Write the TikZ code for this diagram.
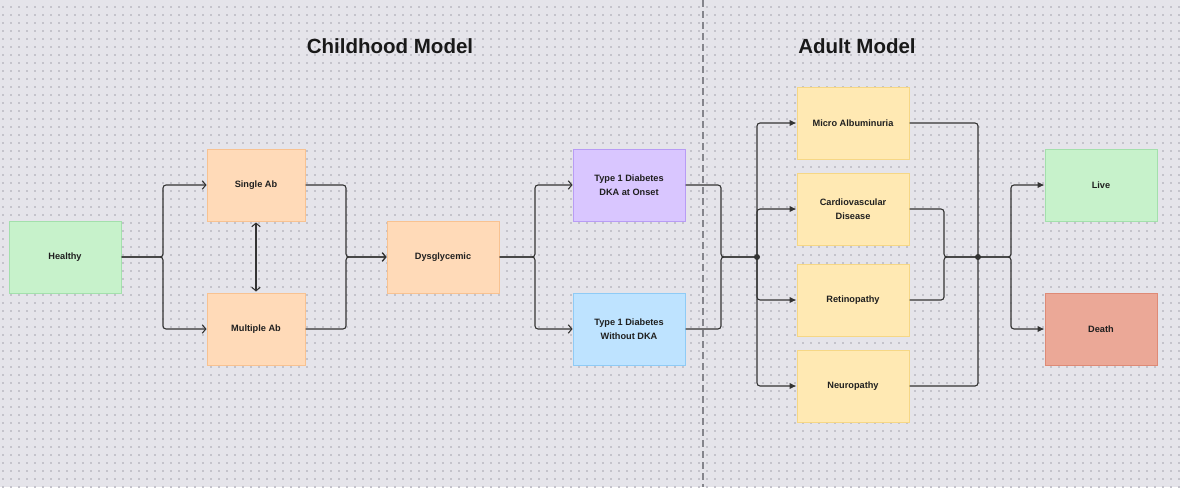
\documentclass[tikz,border=0pt]{standalone}
\usepackage{fontspec}
\setmainfont{Liberation Sans}
\usepackage{tikz}
\usetikzlibrary{arrows.meta,positioning}
\usepackage{xcolor}

\definecolor{bgcol}{HTML}{E5E4EA}
\definecolor{dotcol}{HTML}{C4C3CB}
\definecolor{linecol}{HTML}{333333}
\definecolor{divcol}{HTML}{85858C}
\definecolor{greenfill}{HTML}{C7F2CB}
\definecolor{greenline}{HTML}{A3E0AC}
\definecolor{orangefill}{HTML}{FFDAB8}
\definecolor{orangeline}{HTML}{F8C291}
\definecolor{purplefill}{HTML}{D9C6FF}
\definecolor{purpleline}{HTML}{B89CF5}
\definecolor{bluefill}{HTML}{BEE3FF}
\definecolor{blueline}{HTML}{8FCBF6}
\definecolor{yellowfill}{HTML}{FFE9B3}
\definecolor{yellowline}{HTML}{F6D785}
\definecolor{redfill}{HTML}{EBA897}
\definecolor{redline}{HTML}{DE8A76}

\tikzset{
  state/.style={draw, line width=1pt, minimum width=112pt, minimum height=72pt,
    align=center, text=black!88, font=\fontsize{9.2}{14}\selectfont\bfseries},
  narrow/.style={minimum width=98pt},
  title/.style={font=\fontsize{20.5}{24}\selectfont\bfseries, text=black!90},
  wire/.style={draw=linecol, line width=1.1pt, rounded corners=3pt},
  >={Straight Barb[length=3.5pt,width=8.5pt]},
  tip/.style={-{Latex[length=7pt,width=6.5pt]}}
}

\begin{document}
\begin{tikzpicture}[x=1pt, y=-1pt]
\useasboundingbox (0,0) rectangle (1180,487);
\fill[bgcol] (0,0) rectangle (1180,487);
\foreach \x in {3,11,...,1179}
  \foreach \y in {7,15,...,487}
    \fill[dotcol] (\x-0.55,\y-0.55) rectangle ++(1.1,1.1);

% divider and titles
\draw[divcol, line width=1.1pt, dash pattern=on 7pt off 4pt] (703,0) -- (703,487);
\node[title] (childt) at (390,46) {Childhood Model};
\node[title] (adultt) at (857,46) {Adult Model};

% childhood model
\node[state, fill=greenfill, draw=greenline] (healthy) at (65,257) {Healthy};
\node[state, narrow, fill=orangefill, draw=orangeline] (single) at (256,185) {Single Ab};
\node[state, narrow, fill=orangefill, draw=orangeline] (multiple) at (256,329) {Multiple Ab};
\node[state, fill=orangefill, draw=orangeline] (dysgly) at (443,257) {Dysglycemic};
\node[state, fill=purplefill, draw=purpleline] (dka) at (629,185) {Type 1 Diabetes\\DKA at Onset};
\node[state, fill=bluefill, draw=blueline] (nodka) at (629,329) {Type 1 Diabetes\\Without DKA};

\coordinate (jh) at (163,257);
\coordinate (js) at (346,257);
\coordinate (jd) at (535,257);

\draw[wire, ->] (healthy.east) -- (jh) |- (single.west);
\draw[wire, ->] (healthy.east) -- (jh) |- (multiple.west);
\draw[wire, <->, shorten <=1pt, shorten >=1pt] (single.south) -- (multiple.north);
\draw[wire, ->] (single.east) -| (js) -- (dysgly.west);
\draw[wire, ->] (multiple.east) -| (js) -- (dysgly.west);
\draw[wire, ->] (dysgly.east) -- (jd) |- (dka.west);
\draw[wire, ->] (dysgly.east) -- (jd) |- (nodka.west);

% adult model
\node[state, fill=yellowfill, draw=yellowline] (micro) at (853,123) {Micro Albuminuria};
\node[state, fill=yellowfill, draw=yellowline] (cardio) at (853,209) {Cardiovascular\\Disease};
\node[state, fill=yellowfill, draw=yellowline] (retino) at (853,300) {Retinopathy};
\node[state, fill=yellowfill, draw=yellowline] (neuro) at (853,386) {Neuropathy};
\node[state, fill=greenfill, draw=greenline] (live) at (1101,185) {Live};
\node[state, fill=redfill, draw=redline] (death) at (1101,329) {Death};

\coordinate (ja) at (721,257);
\coordinate (dotin) at (757,257);
\coordinate (jc) at (944,257);
\coordinate (dotout) at (978,257);
\coordinate (jl) at (1011,257);

\draw[wire] (dka.east) -| (ja) -- (dotin);
\draw[wire] (nodka.east) -| (ja) -- (dotin);
\foreach \n in {micro,cardio,retino,neuro}
  \draw[wire, tip] (dotin) |- (\n.west);

\draw[wire] (micro.east) -| (dotout);
\draw[wire] (neuro.east) -| (dotout);
\draw[wire] (cardio.east) -| (jc) -- (dotout);
\draw[wire] (retino.east) -| (jc) -- (dotout);
\draw[wire, tip] (dotout) -- (jl) |- (live.west);
\draw[wire, tip] (dotout) -- (jl) |- (death.west);

\fill[linecol] (dotin) circle (3pt);
\fill[linecol] (dotout) circle (3pt);
\end{tikzpicture}
\end{document}
